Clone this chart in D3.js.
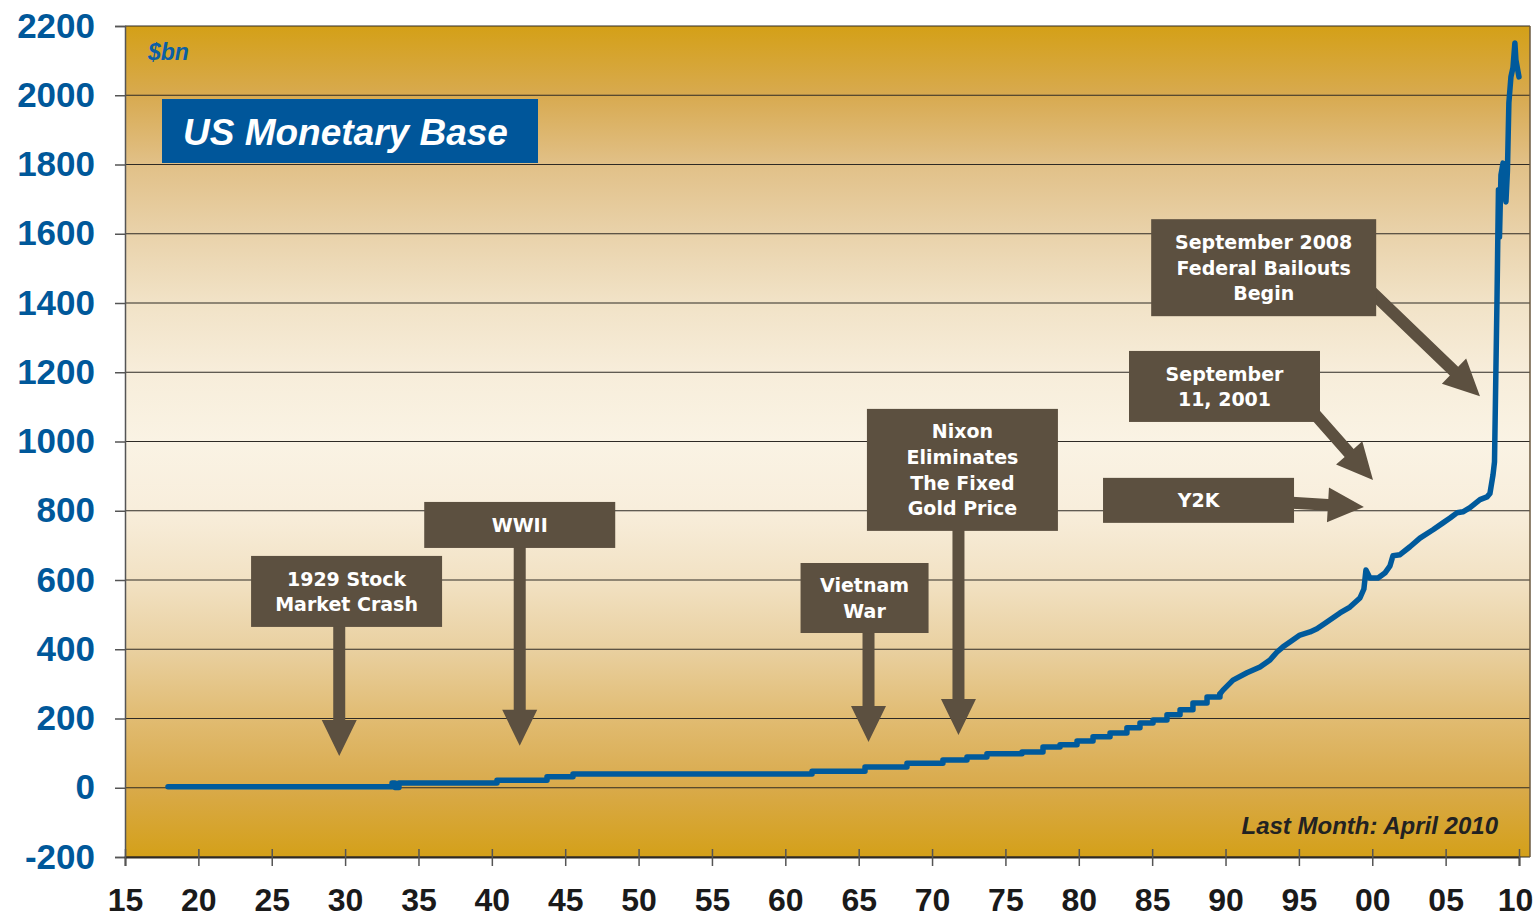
<!DOCTYPE html>
<html>
<head>
<meta charset="utf-8">
<script src="https://cdn.jsdelivr.net/npm/d3@7"></script>
<style>
  html, body { margin: 0; padding: 0; background: #ffffff; }
  svg { display: block; }
</style>
</head>
<body>
<svg id="chart" width="1535" height="917"></svg>
<script>
// ---- Data: US monetary base, $bn ----
// Early history moves in discrete steps (drawn with a step curve)
const stepYears = [1917.93, 1933.20, 1933.40, 1933.67, 1940.35, 1943.76, 1945.53, 1961.82,
  1965.43, 1968.29, 1970.74, 1972.38, 1973.74, 1976.13, 1977.56, 1978.72, 1979.88,
  1980.97, 1982.13, 1983.28, 1984.17, 1985.06, 1986.01, 1986.90, 1987.78, 1988.74, 1989.62];
const stepBase = [3, 14, 1, 14, 22, 32, 40, 48,
  60, 71, 80, 89, 98, 103, 118, 124, 135,
  147, 158, 173, 187, 196, 211, 225, 245, 262, 271];

// From 1990 on the series is drawn point to point
const recentYears = [1989.62, 1989.83, 1990.51, 1991.46, 1992.35, 1993.03, 1993.51, 1993.92,
  1994.39, 1995.07, 1995.76, 1996.23, 1996.91, 1997.80, 1998.48, 1999.16, 1999.43,
  1999.57, 1999.84, 2000.39, 2000.86, 2001.21, 2001.41, 2001.89, 2002.57, 2003.25,
  2004.14, 2004.82, 2005.30, 2005.77, 2006.18, 2006.66, 2007.34, 2007.82, 2008.02,
  2008.23, 2008.33, 2008.50, 2008.60, 2008.67, 2008.77, 2008.91, 2009.11, 2009.21,
  2009.31, 2009.45, 2009.59, 2009.72, 2009.79, 2010.00];
const recentBase = [271, 282, 311, 332, 349, 369, 392, 407,
  421, 441, 450, 459, 479, 505, 522, 548, 574,
  629, 606, 606, 620, 641, 670, 673, 696, 721,
  745, 765, 779, 794, 797, 809, 832, 840, 850,
  904, 941, 1409, 1727, 1591, 1770, 1804, 1692, 1780,
  1978, 2053, 2080, 2151, 2102, 2053];

// Axis ticks
const xTickYears = [1915, 1920, 1925, 1930, 1935, 1940, 1945, 1950, 1955, 1960,
  1965, 1970, 1975, 1980, 1985, 1990, 1995, 2000, 2005, 2010];
const xTickLabels = ["15", "20", "25", "30", "35", "40", "45", "50", "55", "60",
  "65", "70", "75", "80", "85", "90", "95", "00", "05", "10"];
const yTicks = [-200, 0, 200, 400, 600, 800, 1000, 1200, 1400, 1600, 1800, 2000, 2200];

// Event call-outs: label lines, box centre [year, $bn], arrow tail and tip [year, $bn]
const noteLabels = [
  ["1929 Stock", "Market Crash"],
  ["WWII"],
  ["Vietnam", "War"],
  ["Nixon", "Eliminates", "The Fixed", "Gold Price"],
  ["September 2008", "Federal Bailouts", "Begin"],
  ["September", "11, 2001"],
  ["Y2K"]
];
const noteBoxAt = [[1930.1, 567], [1941.9, 759], [1965.4, 548], [1972.07, 918],
  [1992.6, 1502], [1989.93, 1159], [1988.16, 830]];
const noteArrowFrom = [[1929.6, 470], [1941.9, 701], [1965.67, 456], [1971.8, 750],
  [1998.48, 1492], [1995.07, 1128], [1993.71, 825]];
const noteArrowTo = [[1929.6, 92], [1941.9, 121], [1965.67, 132], [1971.8, 152],
  [2007.34, 1131], [2000.05, 889], [1999.43, 811]];
const noteBoxSize = [[191, 71], [191, 46], [128, 70], [191, 122], [225, 97], [191, 71], [191, 45]];

// ---- Layout ----
const plotLeft = 125, plotRight = 1530, plotTop = 26, plotBottom = 857;
const svg = d3.select("#chart");

const x = d3.scaleLinear().domain([1915, 2010]).range([plotLeft, 1519]);
const y = d3.scaleLinear().domain([-200, 2200]).range([plotBottom, plotTop]);

// Background gradient: gold at the edges, cream through the middle
const defs = svg.append("defs");
const grad = defs.append("linearGradient").attr("id", "plotBg")
  .attr("x1", 0).attr("y1", 0).attr("x2", 0).attr("y2", 1);
[
  [0, "rgb(212,160,23)"], [0.084, "rgb(216,170,80)"], [0.165, "rgb(225,192,135)"],
  [0.25, "rgb(233,210,170)"], [0.33, "rgb(241,226,198)"], [0.415, "rgb(247,237,218)"],
  [0.5, "rgb(250,243,228)"], [0.58, "rgb(248,238,220)"], [0.665, "rgb(242,226,196)"],
  [0.75, "rgb(233,208,160)"], [0.83, "rgb(225,188,115)"], [0.915, "rgb(217,170,75)"],
  [1, "rgb(212,160,25)"]
].forEach(([o, c]) => grad.append("stop").attr("offset", o).attr("stop-color", c));

svg.append("rect")
  .attr("x", plotLeft).attr("y", plotTop)
  .attr("width", plotRight - plotLeft).attr("height", plotBottom - plotTop)
  .attr("fill", "url(#plotBg)");

// Horizontal gridlines
svg.append("g").selectAll("line").data(yTicks).join("line")
  .attr("x1", plotLeft).attr("x2", plotRight)
  .attr("y1", d => y(d)).attr("y2", d => y(d))
  .attr("stroke", "#2e2a25").attr("stroke-width", 1.2);

// Right frame edge
svg.append("line")
  .attr("x1", plotRight).attr("x2", plotRight).attr("y1", plotTop).attr("y2", plotBottom)
  .attr("stroke", "#6b5a40").attr("stroke-width", 1.5);

// Y axis
const yAxis = svg.append("g").attr("transform", `translate(${plotLeft},0)`)
  .call(d3.axisLeft(y).tickValues(yTicks).tickSize(10).tickPadding(20).tickFormat(d => String(d)));
yAxis.select(".domain").attr("stroke", "#555").attr("stroke-width", 1.5);
yAxis.selectAll(".tick line").attr("stroke", "#555").attr("stroke-width", 1.5);
yAxis.selectAll(".tick text")
  .attr("fill", "#00589a")
  .style("font-family", "'Liberation Sans', Arial, sans-serif")
  .style("font-weight", "bold")
  .style("font-size", "35px");

// X axis
const xAxis = svg.append("g").attr("transform", `translate(0,${plotBottom})`)
  .call(d3.axisBottom(x).tickValues(xTickYears).tickSize(9)
    .tickFormat((d, i) => xTickLabels[i]));
xAxis.select(".domain").attr("stroke", "#2e2a25").attr("stroke-width", 1.8);
xAxis.selectAll(".tick line").attr("y1", -8).attr("y2", 9)
  .attr("stroke", "#555").attr("stroke-width", 1.5);
xAxis.selectAll(".tick text")
  .attr("y", 54).attr("dy", null)
  .attr("x", (d, i) => i === xTickYears.length - 1 ? -4 : 0)
  .attr("fill", "#1a1a1a")
  .style("font-family", "'Liberation Sans', Arial, sans-serif")
  .style("font-weight", "bold")
  .style("font-size", "32px");

// Monetary base line
const stepData = stepYears.map((yr, i) => ({ year: yr, value: stepBase[i] }));
const recentData = recentYears.map((yr, i) => ({ year: yr, value: recentBase[i] }));
const lineStyle = sel => sel.attr("fill", "none").attr("stroke", "#005a9c")
  .attr("stroke-width", 5.5).attr("stroke-linejoin", "round").attr("stroke-linecap", "round");

svg.append("path").datum(stepData)
  .attr("d", d3.line().x(d => x(d.year)).y(d => y(d.value)).curve(d3.curveStepAfter))
  .call(lineStyle);
svg.append("path").datum(recentData)
  .attr("d", d3.line().x(d => x(d.year)).y(d => y(d.value)))
  .call(lineStyle);

// Call-out arrows and boxes
const noteFill = "#5c5040";
function arrowPoints(x0, y0, x1, y1, shaftW, headW, headL) {
  const len = Math.hypot(x1 - x0, y1 - y0);
  const ux = (x1 - x0) / len, uy = (y1 - y0) / len;
  const nx = -uy, ny = ux;
  const bx = x1 - ux * headL, by = y1 - uy * headL;
  return [
    [x0 + nx * shaftW / 2, y0 + ny * shaftW / 2],
    [bx + nx * shaftW / 2, by + ny * shaftW / 2],
    [bx + nx * headW / 2, by + ny * headW / 2],
    [x1, y1],
    [bx - nx * headW / 2, by - ny * headW / 2],
    [bx - nx * shaftW / 2, by - ny * shaftW / 2],
    [x0 - nx * shaftW / 2, y0 - ny * shaftW / 2]
  ];
}

const notes = svg.append("g");
noteLabels.forEach((lines, i) => {
  const [fx, fy] = noteArrowFrom[i], [tx, ty] = noteArrowTo[i];
  notes.append("polygon")
    .attr("points", arrowPoints(x(fx), y(fy), x(tx), y(ty), 12, 35, 36).map(p => p.join(",")).join(" "))
    .attr("fill", noteFill);
});
noteLabels.forEach((lines, i) => {
  const cx = x(noteBoxAt[i][0]), cy = y(noteBoxAt[i][1]);
  const [w, h] = noteBoxSize[i];
  notes.append("rect")
    .attr("x", cx - w / 2).attr("y", cy - h / 2).attr("width", w).attr("height", h)
    .attr("fill", noteFill);
  const lh = 25.7;
  const t = notes.append("text")
    .attr("text-anchor", "middle")
    .attr("fill", "#ffffff")
    .style("font-family", "'DejaVu Sans', Verdana, sans-serif")
    .style("font-weight", "bold")
    .style("font-size", "19px");
  lines.forEach((ln, j) => {
    t.append("tspan").attr("x", cx)
      .attr("y", cy - (lines.length - 1) * lh / 2 + 7 + j * lh)
      .text(ln);
  });
});

// Title block
svg.append("rect").attr("x", 162).attr("y", 99).attr("width", 376).attr("height", 64)
  .attr("fill", "#00569a");
svg.append("text").attr("x", 183).attr("y", 145)
  .attr("fill", "#ffffff")
  .style("font-family", "'Liberation Sans', Arial, sans-serif")
  .style("font-weight", "bold").style("font-style", "italic").style("font-size", "37px")
  .text("US Monetary Base");

// Unit label
svg.append("text").attr("x", 148).attr("y", 60)
  .attr("fill", "#0b5fa5")
  .style("font-family", "'Liberation Sans', Arial, sans-serif")
  .style("font-weight", "bold").style("font-style", "italic").style("font-size", "23px")
  .text("$bn");

// Data note
svg.append("text").attr("x", 1498).attr("y", 834).attr("text-anchor", "end")
  .attr("fill", "#222222")
  .style("font-family", "'Liberation Sans', Arial, sans-serif")
  .style("font-weight", "bold").style("font-style", "italic").style("font-size", "24px")
  .text("Last Month: April 2010");
</script>
</body>
</html>
